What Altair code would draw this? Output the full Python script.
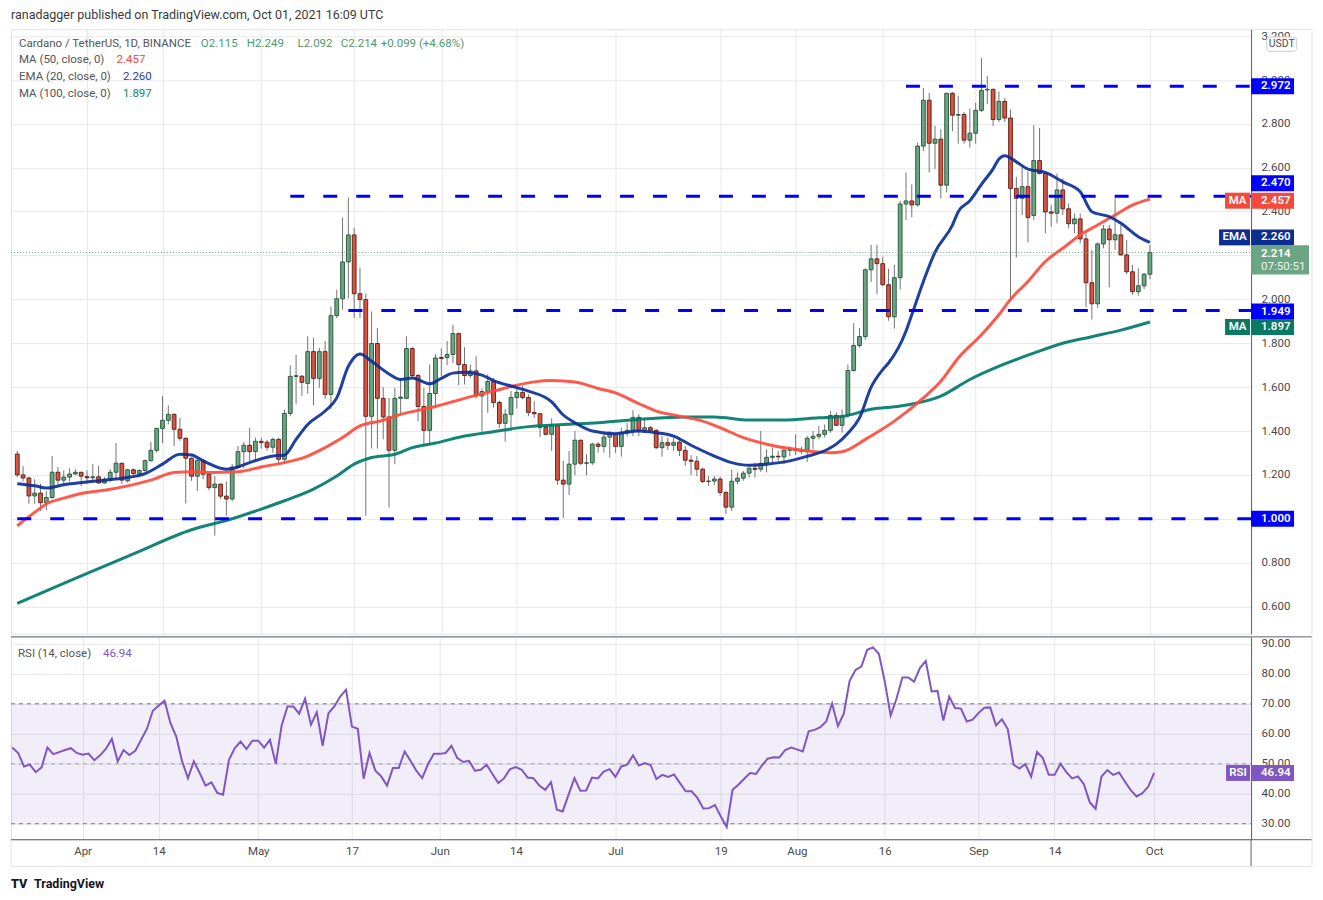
import altair as alt
import pandas as pd

# ------------------------------------------------------------------ data
start_day = "2021-03-20"

opens = [1.295,1.200,1.186,1.104,1.117,1.073,1.097,1.212,1.176,1.190,
         1.204,1.212,1.192,1.187,1.191,1.163,1.180,1.212,1.253,1.173,
         1.223,1.206,1.220,1.265,1.312,1.412,1.449,1.476,1.408,1.367,
         1.276,1.194,1.267,1.203,1.142,1.158,1.103,1.090,1.235,1.306,
         1.335,1.306,1.353,1.349,1.326,1.362,1.271,1.480,1.649,1.650,
         1.617,1.762,1.640,1.762,1.567,1.926,2.003,2.171,2.294,2.026,
         1.999,1.467,1.799,1.549,1.464,1.312,1.549,1.549,1.776,1.653,
         1.512,1.403,1.571,1.735,1.735,1.749,1.844,1.703,1.653,1.674,
         1.560,1.580,1.626,1.530,1.435,1.476,1.553,1.576,1.553,1.485,
         1.479,1.417,1.385,1.426,1.176,1.158,1.249,1.358,1.253,1.255,
         1.340,1.330,1.372,1.385,1.330,1.394,1.403,1.462,1.403,1.415,
         1.403,1.324,1.347,1.335,1.349,1.312,1.267,1.262,1.226,1.170,
         1.172,1.181,1.120,1.053,1.171,1.185,1.208,1.230,1.226,1.253,
         1.280,1.285,1.282,1.312,1.317,1.312,1.308,1.367,1.376,1.385,
         1.403,1.471,1.426,1.471,1.676,1.790,1.831,2.135,2.185,2.163,
         2.067,1.921,2.099,2.435,2.449,2.431,2.699,2.908,2.712,2.731,
         2.521,2.940,2.840,2.843,2.726,2.758,2.862,2.955,2.958,2.820,
         2.903,2.827,2.506,2.461,2.514,2.383,2.633,2.574,2.399,2.393,
         2.499,2.413,2.345,2.367,2.276,2.076,1.980,2.253,2.321,2.272,
         2.294,2.203,2.126,2.035,2.062,2.115]

highs = [1.310,1.240,1.190,1.180,1.160,1.127,1.286,1.236,1.221,1.230,
         1.226,1.213,1.220,1.250,1.240,1.190,1.226,1.345,1.255,1.228,
         1.230,1.225,1.270,1.350,1.415,1.559,1.517,1.480,1.460,1.370,
         1.280,1.270,1.270,1.210,1.195,1.160,1.170,1.250,1.332,1.350,
         1.415,1.370,1.370,1.360,1.370,1.370,1.497,1.699,1.748,1.655,
         1.832,1.824,1.779,1.810,1.968,2.044,2.373,2.464,2.327,2.145,
         2.027,1.945,1.870,1.600,1.551,1.597,1.642,1.832,1.783,1.660,
         1.597,1.703,1.750,1.777,1.810,1.885,1.850,1.782,1.703,1.741,
         1.594,1.658,1.642,1.539,1.499,1.582,1.597,1.605,1.567,1.536,
         1.480,1.430,1.458,1.430,1.264,1.309,1.400,1.360,1.294,1.347,
         1.350,1.400,1.400,1.390,1.415,1.438,1.495,1.476,1.460,1.423,
         1.410,1.377,1.370,1.370,1.370,1.332,1.290,1.286,1.233,1.195,
         1.195,1.192,1.125,1.223,1.211,1.218,1.249,1.256,1.400,1.317,
         1.324,1.309,1.332,1.330,1.385,1.330,1.377,1.400,1.423,1.430,
         1.491,1.485,1.499,1.703,1.892,1.870,2.142,2.249,2.249,2.195,
         2.140,2.158,2.450,2.579,2.524,2.715,2.964,2.942,2.791,2.776,
         2.942,2.945,2.927,2.855,2.870,2.897,3.100,3.020,2.960,2.948,
         2.918,2.867,2.559,2.615,2.582,2.794,2.782,2.580,2.430,2.574,
         2.551,2.438,2.392,2.392,2.302,2.226,2.260,2.339,2.340,2.461,
         2.339,2.271,2.158,2.142,2.120,2.249]

lows = [1.190,1.170,1.068,1.068,1.036,1.040,1.090,1.155,1.158,1.170,
        1.200,1.150,1.160,1.170,1.160,1.160,1.170,1.180,1.158,1.165,
        1.200,1.200,1.214,1.260,1.300,1.345,1.430,1.332,1.355,1.070,
        1.173,1.127,1.180,1.130,0.923,1.090,1.014,1.080,1.230,1.230,
        1.264,1.264,1.320,1.310,1.300,1.249,1.250,1.467,1.524,1.560,
        1.570,1.518,1.597,1.545,1.500,1.915,1.953,2.006,1.915,1.915,
        1.014,1.320,1.320,1.362,1.051,1.249,1.477,1.545,1.645,1.445,
        1.340,1.340,1.506,1.650,1.700,1.710,1.609,1.612,1.642,1.549,
        1.397,1.483,1.506,1.415,1.351,1.400,1.503,1.544,1.468,1.460,
        1.372,1.380,1.309,1.155,1.003,1.108,1.199,1.244,1.199,1.245,
        1.301,1.301,1.279,1.301,1.283,1.376,1.376,1.377,1.392,1.390,
        1.317,1.283,1.314,1.310,1.286,1.241,1.199,1.195,1.162,1.150,
        1.153,1.105,1.021,1.036,1.158,1.173,1.188,1.188,1.214,1.211,
        1.256,1.264,1.249,1.286,1.290,1.294,1.259,1.317,1.362,1.370,
        1.392,1.423,1.392,1.460,1.670,1.780,1.816,2.079,2.024,2.060,
        1.903,1.867,2.044,2.362,2.374,2.423,2.676,2.579,2.594,2.461,
        2.488,2.767,2.710,2.710,2.692,2.710,2.855,2.890,2.791,2.809,
        2.809,1.991,2.191,2.385,2.260,2.362,2.570,2.302,2.332,2.347,
        2.385,2.324,2.302,2.256,1.964,1.908,1.961,2.233,2.055,2.226,
        2.200,2.115,2.021,2.017,2.047,2.092]

closes = [1.200,1.186,1.104,1.117,1.073,1.097,1.212,1.176,1.190,1.204,
          1.212,1.194,1.187,1.191,1.163,1.180,1.212,1.253,1.176,1.223,
          1.206,1.220,1.265,1.312,1.412,1.449,1.476,1.408,1.367,1.276,
          1.194,1.267,1.203,1.142,1.158,1.103,1.090,1.235,1.306,1.335,
          1.306,1.353,1.347,1.326,1.362,1.271,1.480,1.649,1.652,1.622,
          1.762,1.640,1.762,1.567,1.926,2.003,2.171,2.294,2.026,1.999,
          1.467,1.799,1.549,1.464,1.312,1.549,1.555,1.776,1.653,1.512,
          1.403,1.571,1.733,1.731,1.749,1.844,1.703,1.653,1.674,1.560,
          1.580,1.626,1.530,1.435,1.476,1.553,1.576,1.553,1.485,1.479,
          1.417,1.385,1.426,1.176,1.158,1.249,1.358,1.253,1.255,1.340,
          1.330,1.372,1.385,1.330,1.394,1.403,1.462,1.403,1.415,1.403,
          1.324,1.347,1.335,1.347,1.312,1.267,1.262,1.226,1.170,1.172,
          1.181,1.120,1.053,1.171,1.185,1.208,1.230,1.225,1.253,1.280,
          1.285,1.282,1.312,1.317,1.312,1.308,1.367,1.376,1.385,1.403,
          1.471,1.426,1.468,1.676,1.790,1.831,2.135,2.185,2.163,2.067,
          1.921,2.099,2.435,2.449,2.431,2.699,2.908,2.712,2.731,2.521,
          2.940,2.840,2.843,2.726,2.758,2.862,2.953,2.958,2.820,2.903,
          2.827,2.506,2.461,2.514,2.374,2.633,2.574,2.399,2.393,2.499,
          2.413,2.345,2.367,2.276,2.076,1.980,2.253,2.321,2.272,2.295,
          2.203,2.126,2.035,2.062,2.115,2.214]

rsi_values = [55.4,53.6,49.1,49.7,47.2,48.8,55.4,53.2,53.9,54.6,
              55.2,53.6,53.0,53.4,51.2,52.8,55.0,58.3,50.8,54.6,
              52.9,54.3,58.0,61.7,67.7,69.4,71.0,63.6,59.1,50.8,
              45.2,50.8,46.9,42.7,43.8,40.3,39.7,51.3,55.2,57.4,
              54.9,57.7,57.7,55.4,58.0,50.0,62.8,69.1,69.1,66.7,
              71.7,63.0,67.2,56.0,66.9,69.1,72.4,74.7,62.4,61.7,
              45.0,53.6,47.7,45.8,42.7,48.6,48.6,54.1,51.0,47.7,
              45.2,49.9,53.3,53.3,53.6,56.0,51.9,50.6,51.0,47.7,
              48.0,49.7,46.6,43.6,45.2,48.2,48.9,48.0,45.4,45.2,
              42.7,41.3,43.8,34.7,34.1,39.7,45.2,41.0,41.1,45.4,
              45.1,47.4,48.2,45.6,49.1,49.7,52.8,49.4,50.2,49.6,
              44.9,46.3,45.6,46.4,43.6,40.8,40.8,38.6,35.1,35.2,
              36.2,32.4,28.9,41.3,43.0,45.0,46.9,46.6,49.4,51.7,
              52.2,52.1,54.6,55.4,54.8,54.1,60.8,61.3,62.2,64.1,
              70.1,62.6,66.7,77.7,81.3,82.4,88.0,88.8,86.6,77.4,
              66.1,71.7,78.8,78.8,77.4,81.9,84.3,74.1,74.3,64.4,
              72.4,68.6,68.4,64.1,64.7,66.9,68.7,68.8,62.8,64.8,
              61.6,49.7,48.4,49.9,45.7,53.9,51.9,46.3,46.3,50.0,
              47.2,45.1,45.8,43.2,37.2,35.0,45.7,47.9,46.3,47.1,
              44.1,41.2,39.1,40.2,42.4,46.94]

ema20_days = [0,3,5,8,14,18,22,25,28,30,32,36,38,40,44,46,48,50,53,55,
              57,59,61,64,66,68,71,73,75,77,80,82,85,88,92,94,96,99,103,107,
              110,113,116,120,123,126,129,133,136,139,141,143,145,147,149,150,153,154,156,158,
              161,162,164,166,168,169,170,172,174,177,180,183,185,188,190,193,195]
ema20_vals = [1.160,1.150,1.140,1.155,1.173,1.185,1.206,1.249,1.294,1.291,
              1.264,1.226,1.236,1.256,1.286,1.290,1.362,1.430,1.491,1.551,
              1.695,1.751,1.718,1.660,1.635,1.642,1.615,1.640,1.664,1.668,
              1.655,1.630,1.605,1.582,1.533,1.473,1.438,1.400,1.388,1.400,
              1.392,1.377,1.335,1.286,1.256,1.244,1.249,1.264,1.285,1.310,
              1.340,1.390,1.460,1.600,1.680,1.710,1.855,1.930,2.082,2.215,
              2.339,2.400,2.450,2.525,2.595,2.640,2.655,2.627,2.594,2.579,
              2.536,2.491,2.400,2.377,2.347,2.286,2.260]

ma50_days = [0,3,5,8,11,15,19,23,27,30,34,37,39,42,46,50,53,56,59,63,
             66,69,72,77,82,86,89,92,96,100,103,107,110,114,118,121,125,129,133,136,
             140,142,146,151,156,159,162,166,169,171,174,177,180,183,186,189,192,195]
ma50_vals = [0.968,1.029,1.067,1.094,1.115,1.130,1.150,1.176,1.211,1.214,
             1.211,1.213,1.218,1.236,1.256,1.286,1.324,1.370,1.423,1.449,
             1.476,1.494,1.512,1.549,1.582,1.609,1.624,1.630,1.623,1.594,
             1.574,1.525,1.491,1.468,1.445,1.415,1.370,1.340,1.320,1.309,
             1.301,1.305,1.362,1.445,1.551,1.627,1.733,1.839,1.930,2.000,
             2.082,2.173,2.233,2.294,2.339,2.385,2.430,2.457]

ma100_days = [0,10,20,30,37,42,46,51,55,58,61,65,68,72,77,82,88,94,100,107,
              115,120,126,132,138,142,147,152,159,164,170,175,180,185,190,195]
ma100_vals = [0.614,0.728,0.840,0.950,1.000,1.044,1.082,1.135,1.195,1.249,
              1.279,1.294,1.324,1.345,1.377,1.397,1.420,1.430,1.438,1.453,
              1.464,1.464,1.450,1.450,1.460,1.466,1.499,1.514,1.559,1.635,
              1.706,1.755,1.800,1.830,1.860,1.897]

level_prices = [2.972, 2.470, 1.949, 1.000]
level_start_days = [153, 47, 57, 0]

tick_days = [12, 25, 42, 58, 73, 86, 103, 121, 134, 149, 165, 178, 195]
price_ticks = [0.6, 0.8, 1.0, 1.2, 1.4, 1.6, 1.8, 2.0, 2.2, 2.4, 2.6, 2.8, 3.0, 3.2]
rsi_ticks = [30, 40, 50, 60, 70, 80, 90]

last_price = 2.214
last_rsi = 46.94
ma50_last, ema20_last, ma100_last = 2.457, 2.260, 1.897

# ------------------------------------------------------------------ styles
UP, DOWN = "#6ba583", "#d75442"
UP_B, DOWN_B = "#225437", "#5b1a13"
WICK = "#737375"
C_MA50, C_EMA, C_MA100 = "#ff4b3e", "#0c2f99", "#00796b"
T_MA50, T_EMA, T_MA100 = "#f24a3c", "#0e2e8f", "#087a64"
LEVEL = "#0000ff"
RSI_C = "#7e57c2"
GRID = "#e8e8e8"
FRAME = "#e0e3eb"
AXIS_LINE = "#5d606b"
LBL = "#4a4a4a"
LEG = "#555555"
FONT = "Roboto"

W, H1, H2 = 1241, 605, 203
RIGHT_EDGE = 1302      # outer frame, relative to the plot's left edge
BOTTOM_EDGE = 230      # outer frame, relative to the RSI pane's top

base = pd.Timestamp(start_day)
dates = [(base + pd.Timedelta(days=i)).strftime("%Y-%m-%d") for i in range(len(closes))]

candles = pd.DataFrame({
    "date": dates, "open": opens, "high": highs, "low": lows, "close": closes,
})
candles["dir"] = ["up" if c >= o else "down" for o, c in zip(opens, closes)]

rsi_df = pd.DataFrame({"date": dates, "rsi": rsi_values})
ema_df = pd.DataFrame({"date": [dates[d] for d in ema20_days], "val": ema20_vals})
ma50_df = pd.DataFrame({"date": [dates[d] for d in ma50_days], "val": ma50_vals})
ma100_df = pd.DataFrame({"date": [dates[d] for d in ma100_days], "val": ma100_vals})
levels_df = pd.DataFrame({"start": [dates[d] for d in level_start_days], "level": level_prices})
dummy = pd.DataFrame({"a": [0]})


def dt(day_index):
    t = base + pd.Timedelta(days=day_index)
    return alt.DateTime(year=t.year, month=t.month, date=t.day, utc=True)


x_domain = [alt.DateTime(year=2021, month=3, date=19, hours=18, minutes=40, utc=True),
            alt.DateTime(year=2021, month=10, date=17, hours=13, minutes=12, utc=True)]
xs = alt.Scale(type="utc", domain=x_domain, nice=False)
tick_vals = [dt(d) for d in tick_days]

xa_top = alt.Axis(values=tick_vals, labels=False, ticks=False, domain=False,
                  grid=True, gridColor=GRID, title=None)
xa_bot = alt.Axis(values=tick_vals, ticks=False, domain=False, grid=True, gridColor=GRID,
                  title=None, labelColor=LBL, labelFontSize=11.5, labelPadding=6,
                  labelFlush=False, labelFont=FONT,
                  labelExpr="utcdate(datum.value) == 1 ? utcFormat(datum.value, '%b') : utcFormat(datum.value, '%-d')")

ys = alt.Scale(domain=[0.4752, 3.2314], nice=False, zero=False)
ya = alt.Axis(orient="right", values=price_ticks, format=".3f", title=None, grid=True,
              gridColor=GRID, ticks=False, domain=True, domainColor=AXIS_LINE,
              labelColor=LBL, labelFontSize=11.5, labelPadding=10, labelFlush=False,
              labelFont=FONT)

rs = alt.Scale(domain=[24.667, 92.333], nice=False, zero=False)
ra = alt.Axis(orient="right", values=rsi_ticks, format=".2f", title=None, grid=True,
              gridColor=GRID, ticks=False, domain=True, domainColor=AXIS_LINE,
              labelColor=LBL, labelFontSize=11.5, labelPadding=10, labelFlush=False,
              labelFont=FONT)


def PX(f):
    return alt.X(f"{f}:T", scale=xs, axis=xa_top)


def RX(f):
    return alt.X(f"{f}:T", scale=xs, axis=xa_bot)


def PY(f):
    return alt.Y(f"{f}:Q", scale=ys, axis=ya)


def RY(f):
    return alt.Y(f"{f}:Q", scale=rs, axis=ra)


def label(text, x, y, color=LEG, size=11.5, weight="normal", align="left"):
    return alt.Chart(dummy).mark_text(
        text=text, align=align, baseline="middle", color=color, fontSize=size,
        fontWeight=weight, font=FONT
    ).encode(x=alt.value(x), y=alt.value(y))


def hline(y, x0, x1, color=FRAME):
    return alt.Chart(dummy).mark_rule(color=color, strokeWidth=1).encode(
        x=alt.value(x0), x2=alt.value(x1), y=alt.value(y))


def vline(x, y0, y1, color=FRAME):
    return alt.Chart(dummy).mark_rule(color=color, strokeWidth=1).encode(
        x=alt.value(x), y=alt.value(y0), y2=alt.value(y1))


def tag(yfun, value, text, fill, x0, x1, text_x, shift=0.0, top=-8.0, bottom=8.0,
        align="left", size=11.5):
    d = pd.DataFrame({"v": [value]})
    box = alt.Chart(d).mark_rect(fill=fill, yOffset=shift + top, y2Offset=shift + bottom).encode(
        x=alt.value(x0), x2=alt.value(x1), y=yfun("v"), y2=alt.Y2("v"))
    txt = alt.Chart(d).mark_text(text=text, align=align, baseline="middle", dy=shift,
                                 color="white", fontSize=size, fontWeight=600,
                                 font=FONT).encode(x=alt.value(text_x), y=yfun("v"))
    return [box, txt]


# ------------------------------------------------------------------ price panel
wicks = alt.Chart(candles).mark_rule(color=WICK, strokeWidth=1, clip=True).encode(
    x=PX("date"), y=PY("low"), y2=alt.Y2("high"))

bodies = alt.Chart(candles).mark_bar(size=3.8, strokeWidth=0.9, clip=True).encode(
    x=PX("date"), y=PY("open"), y2=alt.Y2("close"),
    color=alt.Color("dir:N", scale=alt.Scale(domain=["up", "down"], range=[UP, DOWN]), legend=None),
    stroke=alt.Stroke("dir:N", scale=alt.Scale(domain=["up", "down"], range=[UP_B, DOWN_B]), legend=None))


def ma_line(df, color):
    return alt.Chart(df).mark_line(color=color, strokeWidth=3, interpolate="monotone",
                                   opacity=0.92, clip=True).encode(x=PX("date"), y=PY("val"))


ma100_line = ma_line(ma100_df, C_MA100)
ma50_line = ma_line(ma50_df, C_MA50)
ema_line = ma_line(ema_df, C_EMA)

level_lines = alt.Chart(levels_df).mark_rule(color=LEVEL, strokeWidth=3, strokeDash=[14, 19],
                                              clip=True).encode(
    x=PX("start"), x2=alt.value(W), y=PY("level"))

price_line = alt.Chart(pd.DataFrame({"p": [last_price]})).mark_rule(
    color=UP, strokeWidth=1, strokeDash=[1, 2]).encode(
    x=alt.value(0), x2=alt.value(W), y=PY("p"))

tags = []
tags += tag(PY, 2.972, "2.972", LEVEL, W, W + 43, W + 10)
tags += tag(PY, 2.470, "2.470", LEVEL, W, W + 43, W + 10, shift=-13)
tags += tag(PY, ma50_last, "2.457", T_MA50, W, W + 43, W + 10, shift=1.5)
tags += tag(PY, ma50_last, "MA", T_MA50, W - 26, W - 1, W - 13.5, shift=1.5, align="center")
tags += tag(PY, ema20_last, "2.260", T_EMA, W, W + 43, W + 10, shift=-5)
tags += tag(PY, ema20_last, "EMA", T_EMA, W - 32, W - 1, W - 16.5, shift=-5, align="center")
tags += tag(PY, 1.949, "1.949", LEVEL, W, W + 43, W + 10, shift=1)
tags += tag(PY, ma100_last, "1.897", T_MA100, W, W + 43, W + 10, shift=5)
tags += tag(PY, ma100_last, "MA", T_MA100, W - 26, W - 1, W - 13.5, shift=5, align="center")
tags += tag(PY, 1.000, "1.000", LEVEL, W, W + 43, W + 10)
# last price tag (two lines)
lp = pd.DataFrame({"v": [last_price]})
tags.append(alt.Chart(lp).mark_rect(fill=UP, yOffset=-7.3, y2Offset=22).encode(
    x=alt.value(W), x2=alt.value(W + 58), y=PY("v"), y2=alt.Y2("v")))
tags.append(alt.Chart(lp).mark_text(text="2.214", align="left", baseline="middle", dy=2,
                                    color="white", fontSize=11.5, fontWeight=600, font=FONT).encode(
    x=alt.value(W + 10), y=PY("v")))
tags.append(alt.Chart(lp).mark_text(text="07:50:51", align="left", baseline="middle", dy=14.5,
                                    color="#eef5f0", fontSize=11.5, font=FONT).encode(
    x=alt.value(W + 10), y=PY("v")))

usdt_box = alt.Chart(dummy).mark_rect(fill="white", stroke="#c9ccd4", strokeWidth=1,
                                      cornerRadius=3).encode(
    x=alt.value(1256.7), x2=alt.value(1286.7), y=alt.value(7.7), y2=alt.value(22))
usdt_txt = label("USDT", 1271.7, 15, color=LBL, size=10.5, align="center")

legend = [
    label("ranadagger published on TradingView.com, Oct 01, 2021 16:09 UTC", 0, -14,
          color="#3a3a3a", size=12.5),
    label("Cardano / TetherUS, 1D, BINANCE", 8, 14.3),
    label("O2.115", 190, 14.3, color="#4c9a6c"),
    label("H2.249", 236, 14.3, color="#4c9a6c"),
    label("L2.092", 286.7, 14.3, color="#4c9a6c"),
    label("C2.214", 330, 14.3, color="#4c9a6c"),
    label("+0.099 (+4.68%)", 370, 14.3, color="#4c9a6c"),
    label("MA (50, close, 0)", 8, 31),
    label("2.457", 105.7, 31, color=T_MA50),
    label("EMA (20, close, 0)", 8, 48),
    label("2.260", 112, 48, color="#2442a8"),
    label("MA (100, close, 0)", 8, 64.3),
    label("1.897", 112, 64.3, color="#0c8a6c"),
]

price_frame = [hline(0, W, RIGHT_EDGE), vline(RIGHT_EDGE, 0, H1 + 1)]

price_panel = alt.layer(
    wicks, bodies, ma100_line, ma50_line, ema_line, level_lines, price_line,
    *tags, usdt_box, usdt_txt, *legend, *price_frame
).properties(width=W, height=H1)

# ------------------------------------------------------------------ RSI panel
band = alt.Chart(pd.DataFrame({"lo": [30], "hi": [70]})).mark_rect(
    fill=RSI_C, opacity=0.1).encode(x=alt.value(0), x2=alt.value(W), y=RY("lo"), y2=alt.Y2("hi"))
band_lines = alt.Chart(pd.DataFrame({"lvl": [70, 30]})).mark_rule(
    color="#787b86", strokeDash=[4, 4], strokeWidth=1).encode(
    x=alt.value(0), x2=alt.value(W), y=RY("lvl"))
mid_line = alt.Chart(pd.DataFrame({"lvl": [50]})).mark_rule(
    color="#787b86", strokeDash=[4, 4], strokeWidth=1, opacity=0.6).encode(
    x=alt.value(0), x2=alt.value(W), y=RY("lvl"))
rsi_line = alt.Chart(rsi_df).mark_line(color=RSI_C, strokeWidth=2, clip=True).encode(
    x=RX("date"), y=RY("rsi"))

rsi_tags = []
rsi_tags += tag(RY, last_rsi, "46.94", RSI_C, W, W + 43, W + 10)
rsi_tags += tag(RY, last_rsi, "RSI", RSI_C, W - 25, W - 1, W - 13, align="center")

rsi_legend = [
    label("RSI (14, close)", 7, 16.7),
    label("46.94", 92, 16.7, color=RSI_C),
    label("TV", 0, 247, color="#131722", size=12.5, weight=900),
    label("TradingView", 23, 247, color="#131722", size=12.5, weight="bold"),
]

rsi_frame = [
    hline(0, 0, RIGHT_EDGE, AXIS_LINE),          # pane separator
    hline(H2, 0, RIGHT_EDGE, AXIS_LINE),         # time-axis separator
    vline(W, H2, BOTTOM_EDGE, AXIS_LINE),        # price-scale border down to frame
    vline(RIGHT_EDGE, 0, BOTTOM_EDGE),
    hline(BOTTOM_EDGE, 0, RIGHT_EDGE),
    vline(0, H2, BOTTOM_EDGE),
]

rsi_panel = alt.layer(
    band, band_lines, mid_line, rsi_line, *rsi_tags, *rsi_legend, *rsi_frame
).properties(width=W, height=H2)

chart = alt.vconcat(price_panel, rsi_panel, spacing=0).properties(
    padding={"left": 2, "top": 0, "right": 2, "bottom": 2}
).configure(font=FONT).configure_view(stroke=FRAME, strokeWidth=1)

chart.save("out.html", embed_options={"renderer": "svg", "actions": False})
